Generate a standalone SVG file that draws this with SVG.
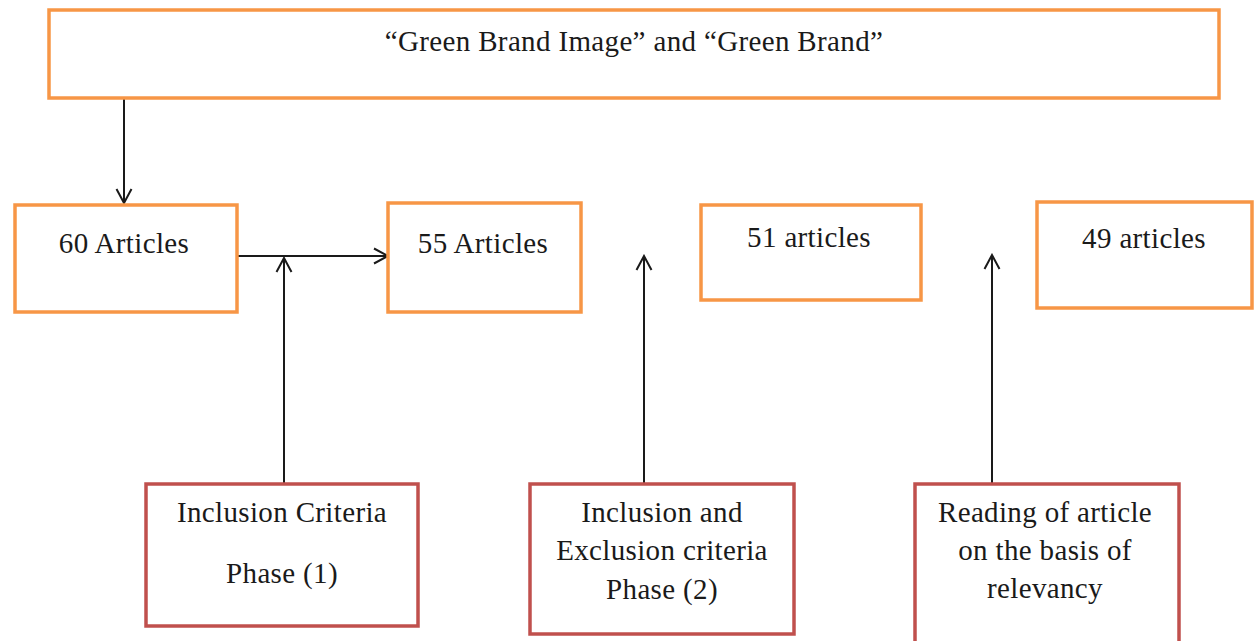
<svg xmlns="http://www.w3.org/2000/svg" width="1254" height="641" viewBox="0 0 1254 641">
<style>
.bg{fill:#ffffff}
.ob{fill:#ffffff;stroke:#F79646;stroke-width:3.5}
.rb{fill:#ffffff;stroke:#C0504D;stroke-width:3.5}
.t{font-family:"Liberation Serif","Times New Roman",serif;font-size:29px;fill:#1a1a1a;text-anchor:middle;letter-spacing:0.35px}
.c{fill:none;stroke:#1a1a1a;stroke-width:2}
</style>
<defs>
<marker id="ah" viewBox="0 0 18 18" refX="16" refY="9" markerWidth="18" markerHeight="18" markerUnits="userSpaceOnUse" orient="auto">
<path d="M2,1.5 L16,9 L2,16.5" fill="none" stroke="#1a1a1a" stroke-width="2"/>
</marker>
</defs>
<rect class="bg" x="0" y="0" width="1254" height="641"/>
<g id="connectors">
<line class="c" x1="124" y1="99" x2="124" y2="203" marker-end="url(#ah)"/>
<line class="c" x1="237" y1="256" x2="388" y2="256" marker-end="url(#ah)"/>
<line class="c" x1="284" y1="484" x2="284" y2="258" marker-end="url(#ah)"/>
<line class="c" x1="644" y1="484" x2="644" y2="256" marker-end="url(#ah)"/>
<line class="c" x1="992" y1="484" x2="992" y2="255" marker-end="url(#ah)"/>
</g>
<g id="node-title">
<rect class="ob" x="49" y="10" width="1170" height="88"/>
<text class="t" x="634" y="51">“Green Brand Image” and “Green Brand”</text>
</g>
<g id="node-60">
<rect class="ob" x="15" y="205" width="222" height="107"/>
<text class="t" x="124" y="253">60 Articles</text>
</g>
<g id="node-55">
<rect class="ob" x="388" y="203" width="193" height="109"/>
<text class="t" x="483" y="253">55 Articles</text>
</g>
<g id="node-51">
<rect class="ob" x="701" y="205" width="220" height="95"/>
<text class="t" x="809" y="247">51 articles</text>
</g>
<g id="node-49">
<rect class="ob" x="1037" y="202" width="215" height="106"/>
<text class="t" x="1144" y="248">49 articles</text>
</g>
<g id="node-phase1">
<rect class="rb" x="146" y="484" width="272" height="142"/>
<text class="t" x="282" y="522">Inclusion Criteria</text>
<text class="t" x="282" y="583">Phase (1)</text>
</g>
<g id="node-phase2">
<rect class="rb" x="530" y="484" width="264" height="150"/>
<text class="t" x="662" y="522">Inclusion and</text>
<text class="t" x="662" y="560">Exclusion criteria</text>
<text class="t" x="662" y="599">Phase (2)</text>
</g>
<g id="node-reading">
<rect class="rb" x="915" y="484" width="264" height="180"/>
<text class="t" x="1045" y="522">Reading of article</text>
<text class="t" x="1045" y="560">on the basis of</text>
<text class="t" x="1045" y="598">relevancy</text>
</g>
</svg>
